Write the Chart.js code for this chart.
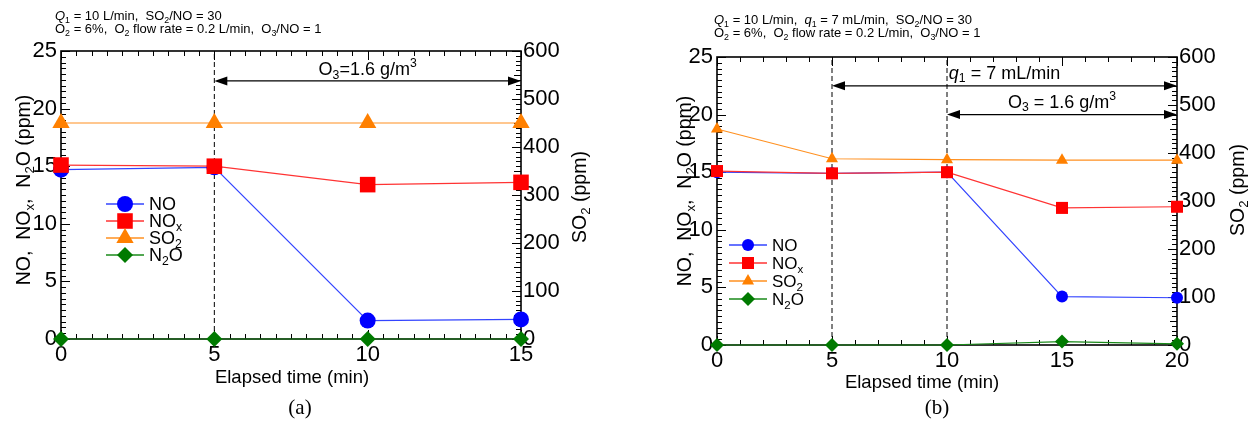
<!DOCTYPE html>
<html><head><meta charset="utf-8">
<script src="https://cdn.jsdelivr.net/npm/chart.js@4/dist/chart.umd.min.js"></script>
<style>
html,body{margin:0;padding:0;background:#fff;width:1248px;height:424px;overflow:hidden}
.p{position:absolute;top:0;width:624px;height:424px}
</style></head><body>
<div class="p" style="left:0"><canvas id="ca" width="624" height="424"></canvas></div>
<div class="p" style="left:624px"><canvas id="cb" width="624" height="424"></canvas></div>
<script>
// ---------- data ----------
const timeA = [0, 5, 10, 15];
const noA   = [14.7, 14.9, 1.6, 1.7];
const noxA  = [15.1, 15.0, 13.4, 13.6];
const so2A  = [450, 450, 450, 450];
const n2oA  = [0, 0, 0, 0];
const dashA = [5];

const timeB = [0, 5, 10, 15, 20];
const noB   = [15.0, 14.9, 15.0, 4.2, 4.1];
const noxB  = [15.1, 14.9, 15.0, 11.9, 12.0];
const so2B  = [450, 388, 386, 385, 385];
const n2oB  = [0, 0, 0, 0.3, 0.1];
const dashB = [5, 10];

const leftTicks  = [0, 5, 10, 15, 20, 25];
const rightTicks = [0, 100, 200, 300, 400, 500, 600];
const xTicksA = [0, 5, 10, 15];
const xTicksB = [0, 5, 10, 15, 20];

const seriesNames = ['NO', 'NO_{x}', 'SO_{2}', 'N_{2}O'];
const arrowsA = [{from: 5, to: 15, label: 'O_{3}=1.6 g/m^{3}'}];
const arrowsB = [{from: 5, to: 20, label: '*q*_{1} = 7 mL/min'}, {from: 10, to: 20, label: 'O_{3} = 1.6 g/m^{3}'}];
const headerA = ['*Q*_{1} = 10 L/min,  SO_{2}/NO = 30', 'O_{2} = 6%,  O_{2} flow rate = 0.2 L/min,  O_{3}/NO = 1'];
const headerB = ['*Q*_{1} = 10 L/min,  *q*_{1} = 7 mL/min,  SO_{2}/NO = 30', 'O_{2} = 6%,  O_{2} flow rate = 0.2 L/min,  O_{3}/NO = 1'];
const xTitle = 'Elapsed time (min)';
const yTitle = 'NO,  NO_{x},  N_{2}O (ppm)';
const y2Title = 'SO_{2} (ppm)';

// ---------- rich text helpers ----------
const FONT = '"Liberation Sans", Arial, sans-serif';
function parseRich(s){
  const out=[]; const re=/(_\{[^}]*\}|\^\{[^}]*\}|\*[^*]+\*)/g; let last=0,m;
  while((m=re.exec(s))){
    if(m.index>last) out.push({t:s.slice(last,m.index),k:'n'});
    const tok=m[0];
    if(tok[0]==='_') out.push({t:tok.slice(2,-1),k:'sub'});
    else if(tok[0]==='^') out.push({t:tok.slice(2,-1),k:'sup'});
    else out.push({t:tok.slice(1,-1),k:'it'});
    last=re.lastIndex;
  }
  if(last<s.length) out.push({t:s.slice(last),k:'n'});
  return out;
}
function fontFor(g,size,fam){const s=(g.k==='sub'||g.k==='sup')?size*0.68:size;return (g.k==='it'?'italic ':'')+s+'px '+fam;}
function drawRich(ctx,s,x,y,size,opt){
  opt=opt||{}; const fam=opt.fam||FONT; const segs=parseRich(s);
  ctx.save(); ctx.translate(x,y); if(opt.rot) ctx.rotate(opt.rot); if(opt.hs) ctx.scale(opt.hs,1);
  let w=0; for(const g of segs){ctx.font=fontFor(g,size,fam);w+=ctx.measureText(g.t).width;}
  let cx=opt.align==='center'?-w/2:opt.align==='right'?-w:0;
  ctx.fillStyle=opt.color||'#000'; ctx.textBaseline='alphabetic'; ctx.textAlign='left';
  for(const g of segs){
    ctx.font=fontFor(g,size,fam);
    const dy=g.k==='sub'?size*0.2:g.k==='sup'?-size*0.42:0;
    ctx.fillText(g.t,cx,dy); cx+=ctx.measureText(g.t).width;
  }
  ctx.restore();
}
function marker(ctx,style,x,y,r,color){
  ctx.beginPath();
  if(style==='circle') ctx.arc(x,y,r,0,Math.PI*2);
  else if(style==='rect'){const s=r*Math.SQRT1_2;ctx.rect(x-s,y-s,2*s,2*s);}
  else if(style==='triangle'){for(let i=0;i<3;i++){const a=i*2*Math.PI/3;const px=x+Math.sin(a)*r,py=y-Math.cos(a)*r;i?ctx.lineTo(px,py):ctx.moveTo(px,py);}ctx.closePath();}
  else {ctx.moveTo(x-r,y);ctx.lineTo(x,y-r);ctx.lineTo(x+r,y);ctx.lineTo(x,y+r);ctx.closePath();}
  ctx.fillStyle=color; ctx.fill();
}
function arrowHead(ctx,x,y,dir){
  ctx.beginPath(); ctx.moveTo(x,y); ctx.lineTo(x-dir*13,y-4.5); ctx.lineTo(x-dir*13,y+4.5); ctx.closePath(); ctx.fillStyle='#000'; ctx.fill();
}

// ---------- chart builder ----------
const COLORS=['#0000ff','#ff0000','#ff8000','#007a00'];
const LINECOLORS=['#3344ff','#ff3333','#ff9020','#1a8a1a'];
const STYLES=['circle','rect','triangle','rectRot'];

function build(id,P){
  const vals=[P.no,P.nox,P.so2,P.n2o];
  const datasets=vals.map((v,i)=>({
    label:seriesNames[i], data:P.time.map((t,j)=>({x:t,y:v[j]})),
    yAxisID:i===2?'y2':'y', borderColor:LINECOLORS[i], backgroundColor:COLORS[i], borderWidth:1.2,
    pointStyle:STYLES[i], pointRadius:P.r[i], pointHoverRadius:P.r[i], pointBorderWidth:0,
    pointBackgroundColor:COLORS[i], clip:false, order:4-i, tension:0
  }));
  P.dash.forEach(t=>datasets.push({data:[{x:t,y:leftTicks[0]},{x:t,y:leftTicks[leftTicks.length-1]}],yAxisID:'y',
    borderColor:'#000',borderWidth:1,borderDash:[5,3],pointRadius:0,order:10}));
  const tickFont={family:FONT,size:22};
  const deco={id:'deco'+id,
    beforeDatasetsDraw(c){
      const {ctx,chartArea:a,scales}=c; ctx.save();
      ctx.strokeStyle='#000'; ctx.lineWidth=1;
      const xs=scales.x;
      for(let v=P.xTicks[0];v<=P.xTicks[P.xTicks.length-1]+1e-9;v+=P.xMinor){
        const px=Math.round(xs.getPixelForValue(v))+0.5; const major=Math.abs(v/5-Math.round(v/5))<1e-6; const L=major?9:5;
        ctx.beginPath();ctx.moveTo(px,a.bottom);ctx.lineTo(px,a.bottom-L);ctx.moveTo(px,a.top);ctx.lineTo(px,a.top+L);ctx.stroke();
      }
      const ys=scales.y;
      for(let v=0;v<=25+1e-9;v+=0.5){
        const py=Math.round(ys.getPixelForValue(v))+0.5; const major=Math.abs(v/5-Math.round(v/5))<1e-6; const L=major?9:5;
        ctx.beginPath();ctx.moveTo(a.left,py);ctx.lineTo(a.left+L,py);ctx.stroke();
      }
      const y2=scales.y2;
      for(let v=0;v<=600+1e-9;v+=10){
        const py=Math.round(y2.getPixelForValue(v))+0.5; const major=v%100===0; const mid=v%50===0; const L=major?9:mid?7:5;
        ctx.beginPath();ctx.moveTo(a.right,py);ctx.lineTo(a.right-L,py);ctx.stroke();
      }
      ctx.lineWidth=1.6;
      ctx.strokeRect(a.left,a.top,a.right-a.left,a.bottom-a.top);
      ctx.restore();
    },
    afterDraw(c){
      const {ctx,chartArea:a,scales}=c; ctx.save();
      drawRich(ctx,P.header[0],P.hx,P.hy,13);
      drawRich(ctx,P.header[1],P.hx,P.hy+13,13);
      drawRich(ctx,xTitle,P.xtX,P.xtY,18.5,{align:'center'});
      drawRich(ctx,yTitle,P.ytX,P.ytY,19.5,{align:'center',rot:-Math.PI/2});
      drawRich(ctx,y2Title,P.y2tX,P.y2tY,19.5,{align:'center',rot:-Math.PI/2});
      ctx.strokeStyle='#000'; ctx.lineWidth=1.3;
      P.arrows.forEach((ar,k)=>{
        const x1=scales.x.getPixelForValue(ar.from), x2=scales.x.getPixelForValue(ar.to);
        const y=scales.y.getPixelForValue(P.arrowY[k]);
        ctx.beginPath();ctx.moveTo(x1+4,y);ctx.lineTo(x2-4,y);ctx.stroke();
        arrowHead(ctx,x1,y,-1); arrowHead(ctx,x2,y,1);
        drawRich(ctx,ar.label,(x1+x2)/2+P.labDx[k],y-P.labDy,P.labSize,{align:'center'});
      });
      seriesNames.forEach((nm,i)=>{
        const y=P.lgY+i*P.lgStep;
        ctx.strokeStyle=LINECOLORS[i]; ctx.lineWidth=1.3;
        ctx.beginPath();ctx.moveTo(P.lgX-19,y);ctx.lineTo(P.lgX+19,y);ctx.stroke();
        marker(ctx,STYLES[i],P.lgX,y,P.r[i],COLORS[i]);
        drawRich(ctx,nm,P.lgX+24,y+P.lgSize*0.36,P.lgSize);
      });
      drawRich(ctx,P.caption,P.capX,414,21,{align:'center',fam:'"Liberation Serif", "Times New Roman", serif'});
      ctx.restore();
    }
  };
  return new Chart(document.getElementById(id),{
    type:'line',
    data:{datasets},
    options:{
      responsive:false, animation:false, events:[],
      layout:{padding:{top:P.top,left:0,right:0,bottom:0}},
      plugins:{legend:{display:false},tooltip:{enabled:false}},
      scales:{
        x:{type:'linear',min:P.xTicks[0],max:P.xTicks[P.xTicks.length-1],
          afterBuildTicks:s=>{s.ticks=P.xTicks.map(v=>({value:v}));},
          grid:{display:false,drawTicks:false},border:{display:false},
          ticks:{font:tickFont,color:'#000',padding:3,maxRotation:0,autoSkip:false},
          afterFit:s=>{s.height=424-P.bottom;}},
        y:{type:'linear',position:'left',min:leftTicks[0],max:leftTicks[leftTicks.length-1],
          afterBuildTicks:s=>{s.ticks=leftTicks.map(v=>({value:v}));},
          grid:{display:false,drawTicks:false},border:{display:false},
          ticks:{font:tickFont,color:'#000',padding:4,autoSkip:false},
          afterFit:s=>{s.width=P.left;}},
        y2:{type:'linear',position:'right',min:rightTicks[0],max:rightTicks[rightTicks.length-1],
          afterBuildTicks:s=>{s.ticks=rightTicks.map(v=>({value:v}));},
          grid:{display:false,drawTicks:false},border:{display:false},
          ticks:{font:tickFont,color:'#000',padding:2,autoSkip:false},
          afterFit:s=>{s.width=624-P.right;}}
      }
    },
    plugins:[deco]
  });
}

build('ca',{time:timeA,no:noA,nox:noxA,so2:so2A,n2o:n2oA,dash:dashA,xTicks:xTicksA,xMinor:0.5,
  r:[8,11,10,8],left:61,right:521,top:51,bottom:339,
  header:headerA,hx:55,hy:20,
  xtX:292,xtY:383,ytX:30,ytY:190,y2tX:586,y2tY:197,
  arrows:arrowsA,arrowY:[22.4],labDx:[0],labDy:6,labSize:18,
  lgX:125,lgY:204,lgStep:17,lgSize:18,caption:'(a)',capX:300});
build('cb',{time:timeB,no:noB,nox:noxB,so2:so2B,n2o:n2oB,dash:dashB,xTicks:xTicksB,xMinor:1,
  r:[6,8.5,7,7],left:93,right:553,top:57,bottom:345,
  header:headerB,hx:90,hy:24,
  xtX:298,xtY:388,ytX:67,ytY:191,y2tX:620,y2tY:190,
  arrows:arrowsB,arrowY:[22.5,20.0],labDx:[0,0],labDy:7,labSize:18,
  lgX:124,lgY:245,lgStep:18,lgSize:17,caption:'(b)',capX:313});
</script>
</body></html>
